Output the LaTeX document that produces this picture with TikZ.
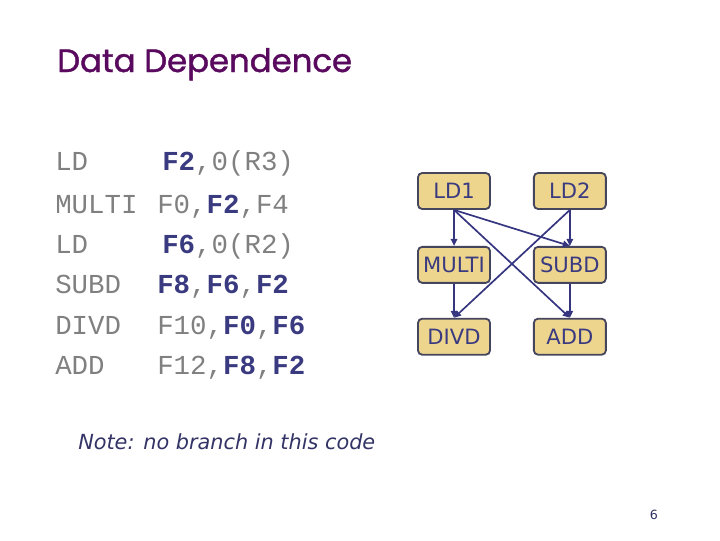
\documentclass[tikz,border=0pt]{standalone}
\usepackage{fontspec}
\usepackage{tikz}
\usetikzlibrary{arrows.meta,positioning}
\setmonofont{Liberation Mono}
\newfontfamily\titlefont[FakeBold=1.3]{Poppins}
\newfontfamily\boxfont{DejaVu Sans}
\definecolor{titlecol}{HTML}{5A0A5E}
\definecolor{codegrey}{HTML}{808080}
\definecolor{regcol}{HTML}{3A3A80}
\definecolor{boxfill}{HTML}{EDD58E}
\definecolor{boxline}{HTML}{45455E}
\definecolor{arrcol}{HTML}{353580}
\definecolor{notecol}{HTML}{333366}
\newcommand{\reg}[1]{\textcolor{regcol}{\bfseries #1}}

\begin{document}
\begin{tikzpicture}[x=0.025cm, y=-0.025cm,
  instr/.style={draw=boxline, fill=boxfill, rounded corners=3pt, line width=1.3pt,
                minimum width=1.8cm, minimum height=0.9cm, inner sep=1pt,
                font=\boxfont\fontsize{15}{15}\selectfont, text=regcol},
  code/.style={anchor=base west, inner sep=0pt, text=codegrey,
               font=\ttfamily\fontsize{19.5}{19.5}\selectfont},
  dep/.style={-{Triangle[length=5pt, width=4.5pt]}, draw=arrcol, line width=1.2pt}]

\useasboundingbox (0,0) rectangle (720,540);

% title
\node[anchor=base west, inner sep=0pt, text=titlecol,
      font=\titlefont\fontsize{23}{23}\selectfont] (title) at (57,72) {Data Dependence};

% the code: opcodes, then operands
\node[code] (op1) at (55,170) {LD};
\node[code] (op2) at (55,213) {MULTI};
\node[code] (op3) at (55,253) {LD};
\node[code] (op4) at (55,293) {SUBD};
\node[code] (op5) at (55,334) {DIVD};
\node[code] (op6) at (55,374) {ADD};
\node[code] (arg1) at (162,170) {\reg{F2},0(R3)};
\node[code] (arg2) at (157,213) {F0,\reg{F2},F4};
\node[code] (arg3) at (162,253) {\reg{F6},0(R2)};
\node[code] (arg4) at (157,293) {\reg{F8},\reg{F6},\reg{F2}};
\node[code] (arg5) at (157,334) {F10,\reg{F0},\reg{F6}};
\node[code] (arg6) at (157,374) {F12,\reg{F8},\reg{F2}};

% dependence graph
\node[instr] (ld1) at (454,191) {LD1};
\node[instr, right=1.05cm of ld1] (ld2) {LD2};
\node[instr, below=0.9cm of ld1] (multi) {MULTI};
\node[instr, below=0.9cm of ld2] (subd) {SUBD};
\node[instr, below=0.85cm of multi] (divd) {DIVD};
\node[instr, below=0.85cm of subd] (add) {ADD};

\draw[dep] (ld1.south) -- (multi.north);
\draw[dep] (multi.south) -- (divd.north);
\draw[dep] (ld2.south) -- (subd.north);
\draw[dep] (subd.south) -- (add.north);
\draw[dep] (ld1.south) -- (subd.north);
\draw[dep] (ld1.south) -- (add.north);
\draw[dep] (ld2.south) -- (divd.north);

\node[anchor=base west, inner sep=0pt, text=notecol,
      font=\boxfont\itshape\fontsize{14.8}{14.8}\selectfont] (note) at (78,449)
  {Note: no branch in this code};

\node[inner sep=0pt, text=notecol, font=\boxfont\fontsize{9}{9}\selectfont] (page) at (654,515) {6};
\end{tikzpicture}
\end{document}
